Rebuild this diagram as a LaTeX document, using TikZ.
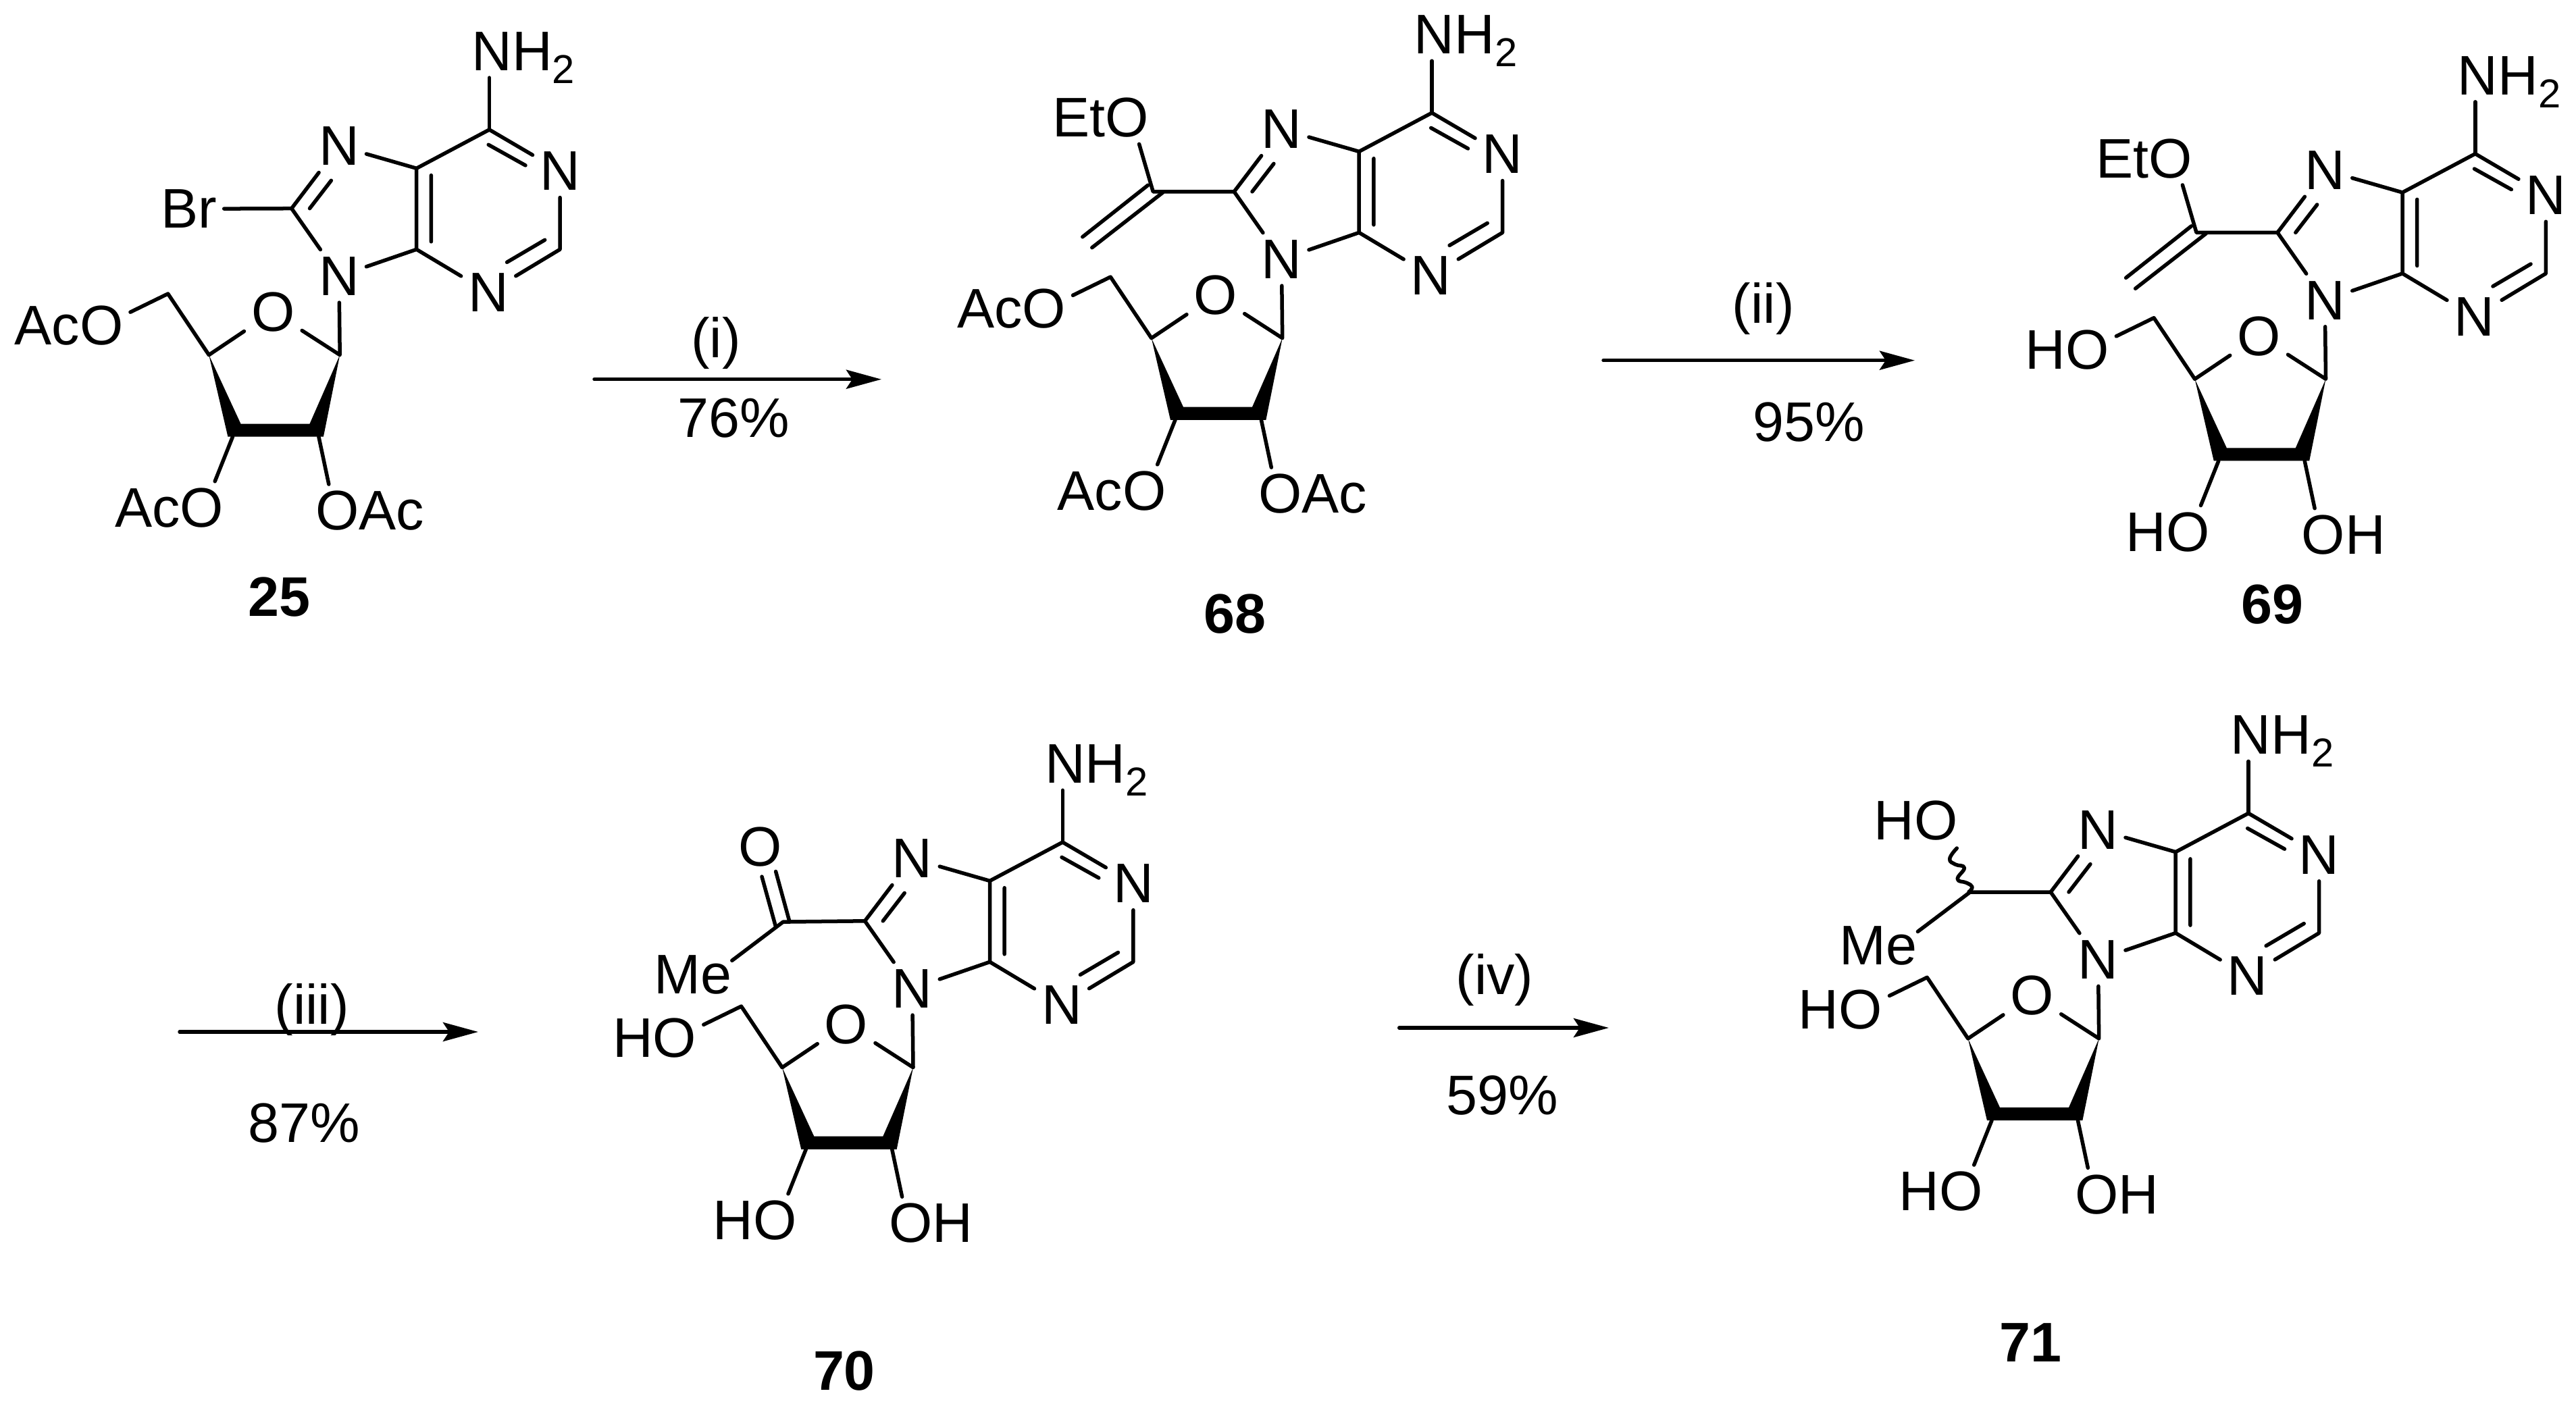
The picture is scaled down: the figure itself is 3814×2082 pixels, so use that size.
\documentclass[tikz,border=0pt]{standalone}
\usepackage{fontspec}
\setmainfont{Liberation Sans}
\usetikzlibrary{arrows.meta}
\newcommand{\atomfont}{\fontsize{23.5pt}{25pt}\selectfont}
\tikzset{
	atom/.style={inner sep=.1cm, text height=.57cm, text depth=0pt},
	cpd/.style={atom, font=\atomfont\bfseries},
	rxn/.style={anchor=base, inner sep=0pt},
	bond/.style={line width=.055cm},
	arw/.style={line width=.055cm, ->}
}
\newcommand{\subtwo}{\raisebox{-.19cm}{\fontsize{17pt}{17pt}\selectfont 2}}
% #1 prefix, #2 #3 place of C4, #4 left labels, #5 right label, #6 group on C8
\newcommand{\nucleoside}[6]{
	\begin{scope}[shift={(#2,#3)}]
		\coordinate (#1c4) at (0,0);
		\coordinate (#1c5) at (0,-120);
		\coordinate (#1c6) at (107.8,-177.3);
		\coordinate (#1c2) at (212.4,0);
		\coordinate (#1c8) at (-185,-60.6);
		\coordinate (#1ca) at (-113.5,156.3);
		\coordinate (#1cd) at (-307.4,156.3);
		\coordinate (#1cb) at (-144.8,277.4);
		\coordinate (#1cc) at (-272.2,277.4);
		\coordinate (#1ce) at (-368,65.7);
		\node[atom] (#1na) at (212.4,-116) {N};
		\node[atom] (#1nc) at (106.5,63.8) {N};
		\node[atom] (#1ng) at (-114.8,-153) {N};
		\node[atom] (#1ni) at (-114.8,39.5) {N};
		\node[atom] (#1ox) at (-212.4,92.5) {O};
		\node[atom, anchor=west] (#1nh) at (71,-293.4) {NH\subtwo};
		\node[atom, anchor=east] (#1oe) at (-423.7,112.9) {#4};
		\node[atom, anchor=east] (#1oc) at (-275,382.7) {#4};
		\node[atom, anchor=west] (#1ob) at (-159.9,387) {#5};
		% purine
		\draw[bond] (#1c6)--(#1na)--(#1c2)--(#1nc)--(#1c4)--(#1c5)--(#1c6) (#1c5)--(#1ng)--(#1c8)--(#1ni)--(#1c4);
		\draw[bond] (106.5,-155)--(161.3,-124.4) (133.9,19)--(190,-14) (21.7,-109.7)--(21.7,-11.5) (-158.2,-60.6)--(-126.3,-102);
		\draw[bond] (#1c6)--(#1c6 |- #1nh.south);
		% sugar
		\draw[bond] (#1ni)--(#1ca)--(#1ox)--(#1cd)--(#1ce)--([yshift=.2cm]#1oe.east);
		\fill (#1cd)--(-260.2,258.3)--(-158.2,258.3)--(#1ca)--(-137.8,277.4)--(-279.3,277.4)--cycle;
		\draw[bond] (#1cc)--([xshift=-.235cm]#1oc.north east) (#1cb)--([xshift=.3cm]#1ob.north west);
		#6
	\end{scope}
}
% same group on 68 and 69
\newcommand{\vinyl}[1]{
	\coordinate (#1cv) at (-305,-60.6);
	\coordinate (#1va) at (-312.5,-70.2);
	\coordinate (#1vb) at (-409.4,6.4);
	\coordinate (#1vc) at (-290.6,-59.3);
	\coordinate (#1vd) at (-395.4,22.3);
	\node[atom, anchor=east] (#1et) at (-300.6,-170.3) {EtO};
	\draw[bond] (#1c8)--(#1cv)--([xshift=-.25cm]#1et.south east);
	\draw[bond] (#1va)--(#1vb) (#1vc)--(#1vd);
}
\begin{document}
\begin{tikzpicture}[x=.01cm, y=-.01cm, font=\atomfont, line join=round, line cap=round, >={Stealth[length=.52cm,width=.28cm,inset=.09cm]}]
	\useasboundingbox (0,0) rectangle (3814,2082);
	\nucleoside{a}{616.7}{369.3}{AcO}{OAc}{
		\node[atom, anchor=east] (abr) at (-285,-60) {Br};
		\draw[bond] (ac8)--(abr);
	}
	\nucleoside{b}{2012.2}{344.4}{AcO}{OAc}{\vinyl{b}}
	\nucleoside{c}{3557}{405}{HO}{OH}{\vinyl{c}}
	\nucleoside{d}{1465.5}{1424.4}{HO}{OH}{
		\coordinate (dcv) at (-306,-59.3);
		\node[atom] (dox) at (-339.8,-170.9) {O};
		\node[atom, anchor=east] (dme) at (-371.7,19) {Me};
		\draw[bond] (dc8)--(dcv)--([shift={(-.1cm,.21cm)}]dme.east);
		\draw[bond] (-337.5,-126.3)--(-317,-52.3) (-316.9,-133.9)--(-296.8,-60.6);
	}
	\nucleoside{e}{3221.2}{1381.6}{HO}{OH}{
		\coordinate (ecv) at (-304.3,-60.6);
		\node[atom, anchor=east] (eoh) at (-312,-167) {HO};
		\node[atom, anchor=east] (eme) at (-371.8,17.9) {Me};
		\draw[bond] (ec8)--(ecv)--([shift={(-.1cm,.2cm)}]eme.east);
		\draw[bond] plot[smooth, tension=.8] coordinates {(-323.9,-125.6) (-334.5,-109.9) (-326.2,-101.6) (-312.9,-96.6) (-322.9,-79.9) (-309.5,-74.3) (-301.2,-68.3) (-306.2,-60.9)};
	}
	%===
	\node[cpd] (n25) at (413.3,883.6) {25};
	\node[cpd] (n68) at (1828.6,908.8) {68};
	\node[cpd] (n69) at (3364.6,894.8) {69};
	\node[cpd] (n70) at (1250,2030) {70};
	\node[cpd] (n71) at (3006,1987.5) {71};
	%===
	\coordinate (ra) at (880,561.7); \coordinate (rb) at (1305,561.7);
	\coordinate (sa) at (2374,533.7); \coordinate (sb) at (2835,533.7);
	\coordinate (ta) at (266,1528); \coordinate (tb) at (708,1528);
	\coordinate (ua) at (2071.7,1522); \coordinate (ub) at (2382,1522);
	\draw[arw] (ra)--(rb);
	\draw[arw] (sa)--(sb);
	\draw[arw] (ta)--(tb);
	\draw[arw] (ua)--(ub);
	\node[rxn] (ri) at (1060,529) {(i)};
	\node[rxn] (ry) at (1086,647) {76\%};
	\node[rxn] (si) at (2610.7,478) {(ii)};
	\node[rxn] (sy) at (2678.6,653) {95\%};
	\node[rxn] (ti) at (461.7,1516.7) {(iii)};
	\node[rxn] (ty) at (450,1691.7) {87\%};
	\node[rxn] (ui) at (2213,1472) {(iv)};
	\node[rxn] (uy) at (2224,1650) {59\%};
\end{tikzpicture}
\end{document}
